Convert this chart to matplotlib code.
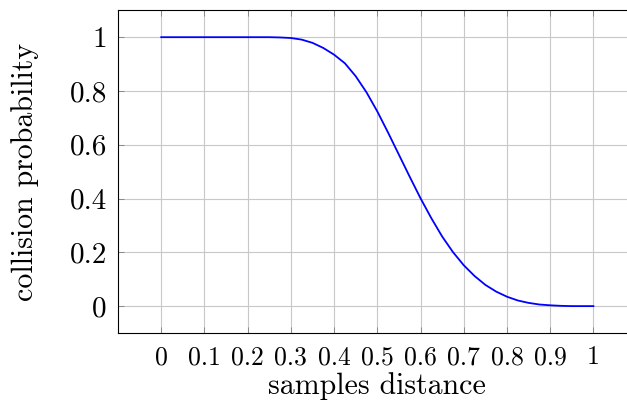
import matplotlib
matplotlib.use("Agg")
import matplotlib.pyplot as plt

distance = [0.0, 0.05, 0.1, 0.15, 0.2, 0.25, 0.275, 0.3, 0.325, 0.35, 0.375, 0.4,
            0.425, 0.45, 0.475, 0.5, 0.525, 0.55, 0.575, 0.6, 0.625, 0.65, 0.675,
            0.7, 0.725, 0.75, 0.775, 0.8, 0.825, 0.85, 0.875, 0.9, 0.925, 0.95, 1.0]
probability = [1.0, 1.0, 1.0, 1.0, 1.0, 1.0, 0.999, 0.997, 0.991, 0.979, 0.960, 0.935,
               0.903, 0.855, 0.795, 0.724, 0.645, 0.563, 0.481, 0.401, 0.327, 0.259, 0.201,
               0.152, 0.112, 0.079, 0.054, 0.035, 0.021, 0.012, 0.006, 0.003, 0.001, 0.0, 0.0]
xticks = [0, 0.1, 0.2, 0.3, 0.4, 0.5, 0.6, 0.7, 0.8, 0.9, 1]
xticklabels = ["0", "0.1", "0.2", "0.3", "0.4", "0.5", "0.6", "0.7", "0.8", "0.9", "1"]
yticks = [0, 0.2, 0.4, 0.6, 0.8, 1]
yticklabels = ["0", "0.2", "0.4", "0.6", "0.8", "1"]

plt.rcParams['font.family'] = ['cmr10', 'DejaVu Serif']
plt.rcParams['axes.formatter.use_mathtext'] = True

fig = plt.figure(figsize=(6.27, 4.05), dpi=100)
ax = fig.add_axes([118/627, 1-333/405, (636.6-118)/627, (333-10.3)/405])
ax.plot(distance, probability, color=(0, 0, 1), lw=1.3)
ax.set_xlim(-0.1, 1.1)
ax.set_ylim(-0.1, 1.1)
ax.set_xticks(xticks)
ax.set_xticklabels(xticklabels)
ax.set_yticks(yticks)
ax.set_yticklabels(yticklabels)
ax.grid(True, color='#c8c8c8', lw=0.8)
ax.set_axisbelow(True)
ax.tick_params(direction='in', length=4, width=0.6, color='#808080',
               top=True, right=True, pad=8)
ax.tick_params(axis='x', labelsize=18.5, pad=9)
ax.tick_params(axis='y', labelsize=21)
for s in ax.spines.values():
    s.set_linewidth(0.8)
ax.set_xlabel("samples distance", fontsize=21.5, labelpad=2)
ax.set_ylabel("collision probability", fontsize=21.5, labelpad=22)
fig.savefig("out.png", dpi=100)
